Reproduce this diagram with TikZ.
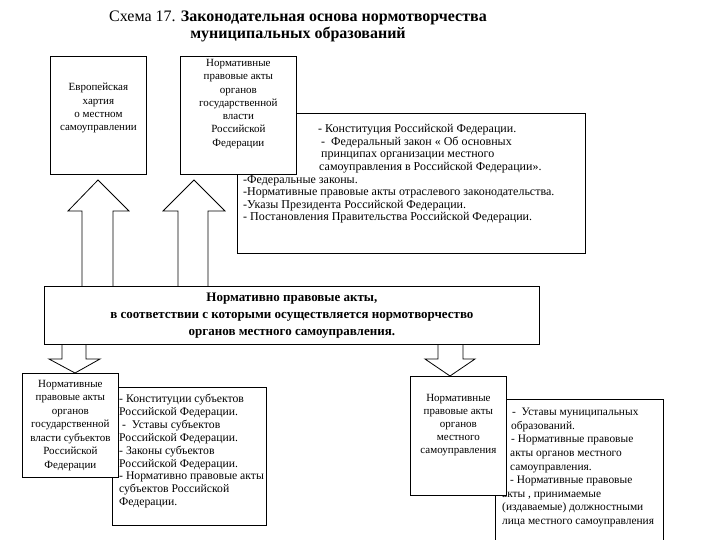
\documentclass[tikz,border=0pt]{standalone}
\usepackage{fontspec}
\setmainfont{Liberation Serif}
\usetikzlibrary{positioning}

\begin{document}
\begin{tikzpicture}[x=1pt,y=-1pt,
    box/.style={draw, fill=white, line width=0.8pt, inner sep=0pt, anchor=north west},
    lbl/.style={inner sep=0pt, align=center, font=\fontsize{11}{13.3}\selectfont},
    txt/.style={inner sep=0pt, align=left, font=\fontsize{12}{12.6}\selectfont},
    blockarr/.style={draw, line width=0.8pt}]
    \clip (0,0) rectangle (720,540);

    % заголовок
    \node[align=center, font=\fontsize{16}{17}\selectfont] (title) at (298,26)
        {Схема 17. \textbf{Законодательная основа нормотворчества}\\ \textbf{муниципальных образований}};

    % верхний ряд
    \node[box, minimum width=348pt, minimum height=140pt] (law) at (237,113) {};
    \node[txt, below right=11pt and 81pt of law.north west] (lawa)
        {- Конституция Российской Федерации.\\
         \hspace*{3pt}-\ \ Федеральный закон « Об основных\\
         \hspace*{3pt}принципах организации местного\\
         \hspace*{1pt}самоуправления в Российской Федерации».};
    \node[txt, below right=62pt and 6pt of law.north west] (lawb)
        {-Федеральные законы.\\
         -Нормативные правовые акты отраслевого законодательства.\\
         -Указы Президента Российской Федерации.\\
         - Постановления Правительства Российской Федерации.};

    \node[box, minimum width=96pt, minimum height=118pt] (eur) at (50,56) {};
    \node[lbl, below=27pt of eur.north] (eurtxt) {Европейская\\хартия\\о местном\\самоуправлении};

    \node[box, minimum width=116pt, minimum height=118pt] (gov) at (180,56) {};
    \node[lbl, below=3pt of gov.north] (govtxt)
        {Нормативные\\правовые акты\\органов\\государственной\\власти\\Российской\\Федерации};

    % стрелки вверх
    \draw[blockarr] (82,286) -- (82,211) -- (68,211) -- (98,180) -- (129,211) -- (113,211) -- (113,286);
    \draw[blockarr] (178,286) -- (178,211) -- (163,211) -- (194,180) -- (225,211) -- (208,211) -- (208,286);

    % средний блок
    \node[box, minimum width=495pt, minimum height=58pt, align=center,
          font=\bfseries\fontsize{13}{17}\selectfont] (mid) at (44,286)
        {Нормативно правовые акты,\\
         в соответствии с которыми осуществляется нормотворчество\\
         органов местного самоуправления.};

    % стрелки вниз
    \draw[blockarr] (62,344) -- (62,359) -- (49,359) -- (75,373) -- (100,359) -- (86,359) -- (86,344);
    \draw[blockarr] (438,344) -- (438,359) -- (425,359) -- (450,376) -- (475,359) -- (463,359) -- (463,344);

    % нижний ряд, субъекты
    \node[box, minimum width=154pt, minimum height=138pt] (sbj) at (112,387) {};
    \node[txt, anchor=north west, font=\fontsize{11.7}{12.9}\selectfont,
          below right=7pt and 7pt of sbj.north west] (sbjtxt)
        {- Конституции субъектов\\
         Российской Федерации.\\
         \hspace*{3pt}-\ \ Уставы субъектов\\
         Российской Федерации.\\
         - Законы субъектов\\
         Российской Федерации.\\
         - Нормативно правовые акты\\
         субъектов Российской\\
         Федерации.};
    \node[box, minimum width=96pt, minimum height=104pt, align=center,
          font=\fontsize{11}{13.5}\selectfont] (sbjgov) at (22,373)
        {Нормативные\\правовые акты\\органов\\государственной\\власти субъектов\\Российской\\Федерации};

    % нижний ряд, муниципальные
    \node[box, minimum width=168pt, minimum height=160pt] (mun) at (495,399) {};
    \node[txt, font=\fontsize{11.4}{13.6}\selectfont,
          below right=9pt and 7pt of mun.north west] (muntxt)
        {\hspace*{10pt}-\ \ Уставы муниципальных\\
         \hspace*{9pt}образований.\\
         \hspace*{9pt}- Нормативные правовые\\
         \hspace*{8pt}акты органов местного\\
         \hspace*{8pt}самоуправления.\\
         \hspace*{8pt}- Нормативные правовые\\
         акты , принимаемые\\
         (издаваемые) должностными\\
         лица местного самоуправления};
    \node[box, minimum width=96pt, minimum height=119pt] (loc) at (410,376) {};
    \node[lbl, font=\fontsize{11}{13}\selectfont, below=18pt of loc.north] (loctxt)
        {Нормативные\\правовые акты\\органов\\местного\\самоуправления};
\end{tikzpicture}
\end{document}
